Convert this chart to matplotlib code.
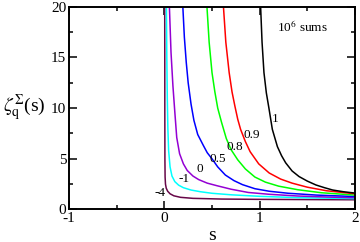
import matplotlib
matplotlib.use("Agg")
import matplotlib.pyplot as plt
from matplotlib.ticker import MultipleLocator

plt.rcParams["font.family"] = ["Liberation Serif", "DejaVu Serif"]
plt.rcParams["mathtext.fontset"] = "stix"
plt.rcParams["axes.unicode_minus"] = False

# zeta_q^Sigma(s), one curve per q
s_m4 = [0.004, 0.005, 0.006, 0.008, 0.012, 0.02, 0.035, 0.06, 0.1, 0.17, 0.3, 0.6, 1.0, 2.0]
z_m4 = [20, 10, 5, 3.2, 2.5, 2.1, 1.8, 1.55, 1.35, 1.2, 1.1, 1.03, 1.0, 0.96]

s_m1 = [0.022, 0.026, 0.031, 0.037, 0.045, 0.06, 0.08, 0.11, 0.15, 0.2, 0.28, 0.38, 0.5, 0.7, 1.0, 1.4, 2.0]
z_m1 = [20, 15, 11, 8, 5.8, 4.2, 3.3, 2.75, 2.4, 2.15, 1.92, 1.75, 1.6, 1.45, 1.3, 1.17, 1.07]

s_0 = [0.053, 0.07, 0.09, 0.11, 0.13, 0.16, 0.20, 0.24, 0.30, 0.36, 0.45, 0.55, 0.70, 0.88, 1.1, 1.4, 1.7, 2.0]
z_0 = [20, 15.5, 12.2, 9.6, 7.1, 5.5, 4.5, 3.85, 3.3, 2.95, 2.6, 2.35, 2.0, 1.68, 1.5, 1.33, 1.23, 1.16]

s_05 = [0.194, 0.21, 0.23, 0.25, 0.28, 0.31, 0.35, 0.41, 0.45, 0.5, 0.56, 0.64, 0.73, 0.82, 0.95, 1.1, 1.3, 1.6, 2.0]
z_05 = [20, 17, 14.5, 12.5, 10.4, 8.8, 7.4, 6.3, 5.6, 5.0, 4.2, 3.4, 2.85, 2.45, 2.05, 1.8, 1.6, 1.42, 1.28]

s_08 = [0.447, 0.47, 0.5, 0.53, 0.56, 0.6, 0.65, 0.7, 0.77, 0.85, 0.95, 1.06, 1.2, 1.4, 1.65, 2.0]
z_08 = [20, 16.5, 13.5, 11.6, 10.0, 8.6, 7.0, 5.9, 4.9, 4.0, 3.2, 2.7, 2.3, 1.95, 1.65, 1.42]

s_09 = [0.62, 0.645, 0.68, 0.71, 0.74, 0.77, 0.8, 0.85, 0.9, 0.99, 1.1, 1.22, 1.34, 1.5, 1.7, 2.0]
z_09 = [20, 16.5, 13.5, 11.6, 10.2, 8.9, 7.9, 6.7, 5.7, 4.5, 3.6, 3.0, 2.6, 2.2, 1.85, 1.55]

s_1 = [1.01, 1.025, 1.045, 1.07, 1.097, 1.133, 1.186, 1.23, 1.273, 1.34, 1.413, 1.5, 1.59, 1.68, 1.766, 1.88, 2.0]
z_1 = [20, 16.5, 13.5, 11.5, 10.0, 7.9, 6.2, 5.3, 4.6, 3.8, 3.25, 2.8, 2.42, 2.15, 1.92, 1.75, 1.62]

q_labels = ["-4", "-1", "0", "0.5", "0.8", "0.9", "1"]
label_s = [-0.045, 0.21, 0.377, 0.561, 0.74, 0.92, 1.16]
label_z = [1.6, 3.05, 4.0, 4.98, 6.13, 7.35, 8.9]

curves = [(s_m4, z_m4, "#670748"), (s_m1, z_m1, "#00ffff"), (s_0, z_0, "#9400d3"),
          (s_05, z_05, "#0000ff"), (s_08, z_08, "#00ff00"), (s_09, z_09, "#ff0000"),
          (s_1, z_1, "#000000")]

fig = plt.figure(figsize=(3.6, 2.42), dpi=100)
ax = fig.add_axes([0.1917, 0.1343, 0.7944, 0.838])

for s, z, c in curves:
    ax.plot(s, z, color=c, lw=1.1)

for txt, xs, ys in zip(q_labels, label_s, label_z):
    ax.text(xs, ys, txt, fontsize=9.5, ha="center", va="center")

ax.text(1.186, 18.0, r"10$^{6}$ sums", fontsize=9.5, ha="left", va="center")

ax.set_xlim(-1, 2)
ax.set_ylim(0, 20)
ax.xaxis.set_major_locator(MultipleLocator(1))
ax.xaxis.set_minor_locator(MultipleLocator(0.5))
ax.yaxis.set_major_locator(MultipleLocator(5))
ax.yaxis.set_minor_locator(MultipleLocator(2.5))
ax.tick_params(which="both", direction="in", top=True, right=True, width=1.1, labelsize=11, pad=2)
ax.tick_params(which="major", length=5.5)
ax.tick_params(which="minor", length=3)
for sp in ax.spines.values():
    sp.set_linewidth(1.4)

ax.set_xlabel("s", fontsize=14, labelpad=1)
fig.text(0.125, 0.555, r"$\zeta_{\mathrm{q}}^{\Sigma}$(s)", fontsize=14, ha="right", va="center")

fig.savefig("out.png", dpi=100)
